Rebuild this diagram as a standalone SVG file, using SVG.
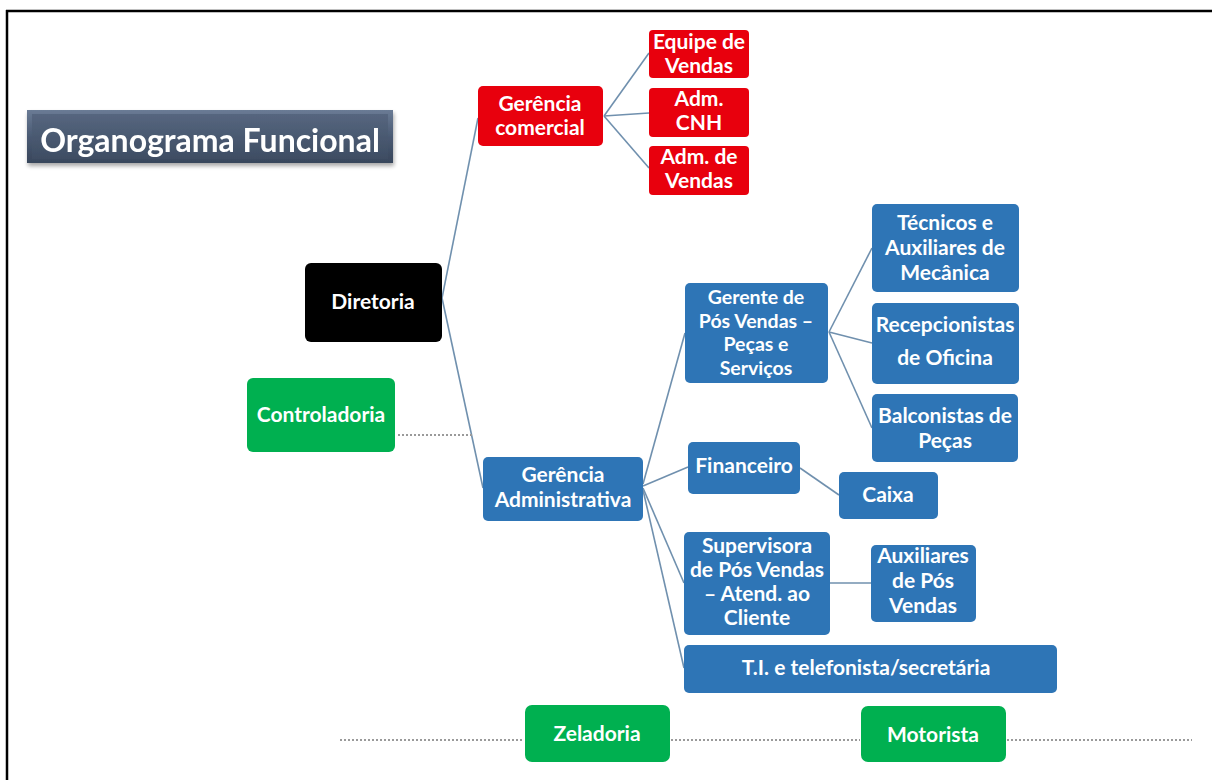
<svg xmlns="http://www.w3.org/2000/svg" width="1212" height="780" viewBox="0 0 1212 780">
  <defs>
    <linearGradient id="titleFill" x1="0" y1="0" x2="0" y2="1">
      <stop offset="0" stop-color="#6A7B95"/>
      <stop offset="0.5" stop-color="#4A5A73"/>
      <stop offset="1" stop-color="#38465B"/>
    </linearGradient>
    <linearGradient id="titleInner" x1="0" y1="0" x2="0" y2="1">
      <stop offset="0" stop-color="#56667F"/>
      <stop offset="1" stop-color="#3E4D63"/>
    </linearGradient>
    <filter id="shadow" x="-5%" y="-20%" width="110%" height="150%">
      <feGaussianBlur in="SourceAlpha" stdDeviation="2"/>
      <feOffset dx="1" dy="3" result="b"/>
      <feComponentTransfer><feFuncA type="linear" slope="0.35"/></feComponentTransfer>
      <feMerge><feMergeNode/><feMergeNode in="SourceGraphic"/></feMerge>
    </filter>
  </defs>
  <style>
    .lbl { font-family: Lato, "Open Sans", "Liberation Sans", sans-serif; font-weight: bold; fill: #ffffff; text-anchor: middle; font-size: 21px; }
    .tight { font-size: 19.5px; }
    .red { fill: #E8000D; }
    .blue { fill: #2E75B6; }
    .green { fill: #00B050; }
    .black { fill: #000000; }
    .link { stroke: #7090AE; stroke-width: 1.6; fill: none; }
    .dots { stroke: #9A9A9A; stroke-width: 2; stroke-dasharray: 2 2; fill: none; }
  </style>

  <rect x="0" y="0" width="1212" height="780" fill="#ffffff"/>
  <!-- page frame -->
  <g id="frame" stroke="#000" stroke-width="2.5" fill="none">
    <line x1="6" y1="11" x2="1212" y2="11"/>
    <line x1="7" y1="10" x2="7" y2="780"/>
  </g>

  <!-- title banner -->
  <g id="title" filter="url(#shadow)">
    <rect x="27" y="110" width="366" height="53" fill="url(#titleFill)"/>
    <rect x="32" y="114" width="356" height="45" fill="url(#titleInner)"/>
    <text x="210" y="152" font-family="Lato, 'Open Sans', 'Liberation Sans', sans-serif" font-weight="bold" font-size="32" fill="#ffffff" text-anchor="middle">Organograma Funcional</text>
  </g>

  <!-- connectors -->
  <g id="connectors">
    <line class="link" x1="442" y1="298" x2="478" y2="118"/>
    <line class="link" x1="442" y1="298" x2="483" y2="488"/>
    <line class="link" x1="604" y1="116" x2="649" y2="53"/>
    <line class="link" x1="604" y1="116" x2="649" y2="113"/>
    <line class="link" x1="604" y1="116" x2="649" y2="168"/>
    <line class="link" x1="643" y1="484" x2="685" y2="333"/>
    <line class="link" x1="643" y1="486" x2="688" y2="467"/>
    <line class="link" x1="643" y1="488" x2="684" y2="583"/>
    <line class="link" x1="643" y1="490" x2="684" y2="668"/>
    <line class="link" x1="829" y1="332" x2="872" y2="248"/>
    <line class="link" x1="829" y1="332" x2="872" y2="343"/>
    <line class="link" x1="829" y1="332" x2="872" y2="428"/>
    <line class="link" x1="800" y1="468" x2="839" y2="495"/>
    <line class="link" x1="830" y1="583" x2="871" y2="583"/>
    <line class="dots" x1="398" y1="435" x2="472" y2="435"/>
    <line class="dots" x1="340" y1="740" x2="524" y2="740"/>
    <line class="dots" x1="671" y1="740" x2="860" y2="740"/>
    <line class="dots" x1="1007" y1="740" x2="1192" y2="740"/>
  </g>

  <g id="diretoria">
    <rect class="black" x="305" y="263" width="137" height="79" rx="6"/>
    <text class="lbl" x="373" y="309">Diretoria</text>
  </g>
  <g id="controladoria">
    <rect class="green" x="247" y="378" width="148" height="74" rx="6"/>
    <text class="lbl" x="321" y="422">Controladoria</text>
  </g>

  <g id="gerencia-comercial">
    <rect class="red" x="478" y="86" width="125" height="60" rx="5"/>
    <text class="lbl" x="540" y="111">Gerência</text>
    <text class="lbl" x="540" y="135">comercial</text>
  </g>
  <g id="equipe-vendas">
    <rect class="red" x="649" y="30" width="100" height="48" rx="4"/>
    <text class="lbl" x="699" y="49">Equipe de</text>
    <text class="lbl" x="699" y="73">Vendas</text>
  </g>
  <g id="adm-cnh">
    <rect class="red" x="649" y="88" width="100" height="49" rx="4"/>
    <text class="lbl" x="699" y="106">Adm.</text>
    <text class="lbl" x="699" y="130">CNH</text>
  </g>
  <g id="adm-vendas">
    <rect class="red" x="649" y="146" width="100" height="49" rx="4"/>
    <text class="lbl" x="699" y="164">Adm. de</text>
    <text class="lbl" x="699" y="188">Vendas</text>
  </g>

  <g id="gerencia-administrativa">
    <rect class="blue" x="483" y="457" width="160" height="64" rx="5"/>
    <text class="lbl" x="563" y="482">Gerência</text>
    <text class="lbl" x="563" y="507">Administrativa</text>
  </g>

  <g id="gerente-pos-vendas">
    <rect class="blue" x="685" y="283" width="143" height="100" rx="5"/>
    <text class="lbl tight" x="756" y="304">Gerente de</text>
    <text class="lbl tight" x="756" y="327.5">Pós Vendas –</text>
    <text class="lbl tight" x="756" y="351">Peças e</text>
    <text class="lbl tight" x="756" y="374.5">Serviços</text>
  </g>
  <g id="tecnicos">
    <rect class="blue" x="872" y="204" width="147" height="88" rx="5"/>
    <text class="lbl" x="945" y="230">Técnicos e</text>
    <text class="lbl" x="945" y="255">Auxiliares de</text>
    <text class="lbl" x="945" y="280">Mecânica</text>
  </g>
  <g id="recepcionistas">
    <rect class="blue" x="872" y="303" width="147" height="81" rx="5"/>
    <text class="lbl" x="945" y="332">Recepcionistas</text>
    <text class="lbl" x="945" y="365">de Oficina</text>
  </g>
  <g id="balconistas">
    <rect class="blue" x="872" y="394" width="146" height="68" rx="5"/>
    <text class="lbl" x="945" y="423">Balconistas de</text>
    <text class="lbl" x="945" y="448">Peças</text>
  </g>

  <g id="financeiro">
    <rect class="blue" x="688" y="442" width="112" height="52" rx="5"/>
    <text class="lbl" x="744" y="473">Financeiro</text>
  </g>
  <g id="caixa">
    <rect class="blue" x="839" y="472" width="99" height="47" rx="5"/>
    <text class="lbl" x="888" y="502">Caixa</text>
  </g>

  <g id="supervisora">
    <rect class="blue" x="684" y="532" width="146" height="103" rx="5"/>
    <text class="lbl" x="757" y="553">Supervisora</text>
    <text class="lbl" x="757" y="577">de Pós Vendas</text>
    <text class="lbl" x="757" y="601">– Atend. ao</text>
    <text class="lbl" x="757" y="625">Cliente</text>
  </g>
  <g id="auxiliares-pos-vendas">
    <rect class="blue" x="871" y="545" width="105" height="77" rx="5"/>
    <text class="lbl" x="923" y="563">Auxiliares</text>
    <text class="lbl" x="923" y="588">de Pós</text>
    <text class="lbl" x="923" y="613">Vendas</text>
  </g>

  <g id="ti">
    <rect class="blue" x="684" y="645" width="373" height="48" rx="5"/>
    <text class="lbl" x="866" y="675">T.I. e telefonista/secretária</text>
  </g>

  <g id="zeladoria">
    <rect class="green" x="525" y="705" width="145" height="57" rx="7"/>
    <text class="lbl" x="597" y="741">Zeladoria</text>
  </g>
  <g id="motorista">
    <rect class="green" x="861" y="706" width="145" height="56" rx="7"/>
    <text class="lbl" x="933" y="742">Motorista</text>
  </g>
</svg>
